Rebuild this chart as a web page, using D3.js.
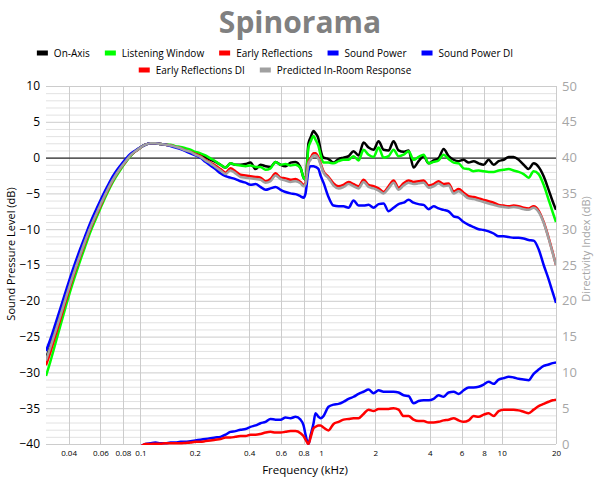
<!DOCTYPE html>
<html>
<head>
<meta charset="utf-8">
<script src="https://cdn.jsdelivr.net/npm/d3@7"></script>
<style>
  body { margin: 0; background: #fff; }
  svg { font-family: 'Open Sans', sans-serif; }
</style>
</head>
<body>
<div id="chart"></div>
<script>
// frequencies in kHz
var freq = [
  0.030, 0.0317, 0.0338, 0.036, 0.0384, 0.0409, 0.0436, 0.0465, 0.0496, 0.0528,
  0.0563, 0.060, 0.064, 0.0682, 0.0727, 0.0775, 0.0826, 0.088, 0.0938, 0.100,
  0.1066, 0.1136, 0.1211, 0.1291, 0.1376, 0.1466, 0.1563, 0.1666, 0.1776, 0.1892,
  0.2017, 0.215, 0.229, 0.244, 0.260, 0.2775, 0.296, 0.315, 0.336, 0.358,
  0.382, 0.407, 0.434, 0.462, 0.493, 0.525, 0.560, 0.597, 0.636, 0.678,
  0.722, 0.770, 0.800, 0.821, 0.852, 0.875, 0.909, 0.932, 0.968, 0.994,
  1.032, 1.100, 1.173, 1.250, 1.332, 1.420, 1.514, 1.614, 1.720, 1.833,
  1.954, 2.083, 2.220, 2.366, 2.522, 2.688, 2.865, 3.054, 3.255, 3.470,
  3.698, 3.942, 4.202, 4.477, 4.773, 5.087, 5.422, 5.780, 6.160, 6.566,
  6.998, 7.459, 7.951, 8.472, 9.031, 9.625, 10.26, 10.94, 11.65, 12.42,
  13.24, 14.11, 15.04, 16.03, 17.09, 18.21, 19.16, 20.0
];

var onAxis = [
  -28.0, -26.3, -24.1, -21.9, -19.6, -17.4, -15.3, -13.3, -11.4, -9.6,
  -8.0, -6.5, -5.0, -3.6, -2.4, -1.4, -0.5, 0.3, 0.9, 1.4,
  1.8, 2.0, 2.0, 1.9, 1.8, 1.7, 1.5, 1.3, 1.1, 0.9,
  0.6, 0.4, 0.1, -0.3, -0.6, -1.0, -1.4, -0.8, -1.0, -1.0,
  -0.9, -0.7, -1.6, -1.0, -1.2, -1.3, -0.6, -1.0, -1.2, -0.7,
  -0.6, -1.4, -2.8, -3.1, 2.0, 2.8, 3.7, 3.4, 2.6, 1.1,
  0.0, -0.2, -0.7, -0.2, 0.0, 0.2, 0.9, 0.3, 2.1, 1.4,
  1.1, 2.3, 1.1, 1.0, 2.3, 1.0, 0.8, 1.0, -1.4, -0.5,
  0.2, -0.8, -0.4, -0.1, 1.2, 0.2, -0.3, -0.5, -0.3, -0.7,
  -0.5, -0.8, -1.0, -0.3, -1.0, -0.5, -0.3, 0.1, 0.1, -0.3,
  -1.0, -1.6, -0.8, -1.3, -2.6, -4.5, -6.1, -7.3
];

var listeningWindow = [
  -30.5, -28.5, -26.0, -23.5, -21.0, -18.6, -16.4, -14.3, -12.3, -10.4,
  -8.7, -7.1, -5.5, -4.05, -2.8, -1.7, -0.7, 0.2, 0.9, 1.4,
  1.8, 2.0, 2.0, 1.9, 1.8, 1.8, 1.6, 1.5, 1.3, 1.1,
  0.8, 0.6, 0.3, -0.1, -0.5, -1.0, -1.4, -0.8, -1.0, -1.1,
  -1.2, -1.1, -1.3, -1.3, -1.7, -1.5, -0.6, -1.0, -0.9, -1.1,
  -1.0, -1.5, -2.8, -3.1, 1.4, 2.2, 3.0, 2.5, 1.6, 0.4,
  -0.7, -0.7, -0.8, -0.5, -0.3, -0.3, 0.2, -0.4, 1.1, 0.4,
  0.1, 1.4, 0.0, 0.2, 1.1, 0.2, 0.4, 0.9, -0.3, 0.1,
  0.4, -0.8, -0.6, -0.4, 0.4, -0.2, -0.7, -0.8, -1.5, -1.6,
  -1.9, -1.8, -1.9, -2.0, -2.0, -1.8, -1.7, -1.6, -1.8, -2.0,
  -2.3, -2.8, -1.9, -2.3, -3.8, -5.9, -7.6, -9.0
];

var earlyReflections = [
  -29.0, -27.2, -24.9, -22.6, -20.2, -17.9, -15.75, -13.7, -11.75, -9.9,
  -8.3, -6.75, -5.2, -3.8, -2.55, -1.5, -0.6, 0.3, 0.9, 1.4,
  1.8, 2.0, 2.0, 1.9, 1.8, 1.7, 1.5, 1.3, 1.0, 0.8,
  0.5, 0.2, -0.3, -0.7, -1.1, -1.6, -2.1, -1.5, -1.9, -2.4,
  -2.5, -2.6, -2.7, -2.8, -3.3, -3.0, -2.2, -2.8, -2.9, -3.1,
  -3.0, -3.4, -3.8, -3.5, -0.6, -0.1, 0.6, 0.6, 0.0, -0.8,
  -1.9, -2.7, -3.6, -4.0, -3.8, -3.4, -3.7, -4.0, -3.1, -3.8,
  -4.0, -4.3, -4.8, -4.0, -3.2, -4.2, -3.6, -3.2, -3.4, -3.3,
  -3.2, -3.9, -3.7, -3.3, -3.7, -3.6, -4.7, -4.4, -4.9, -5.4,
  -5.5, -5.7, -5.9, -6.1, -6.3, -6.6, -6.7, -6.8, -6.7, -6.8,
  -7.0, -7.1, -6.8, -7.4, -9.0, -11.2, -13.2, -15.0
];

var soundPower = [
  -27.0, -25.4, -23.25, -21.1, -18.85, -16.7, -14.65, -12.7, -10.85, -9.1,
  -7.5, -6.0, -4.55, -3.2, -2.05, -1.1, -0.25, 0.5, 1.0, 1.45,
  1.8, 2.0, 2.0, 1.9, 1.8, 1.6, 1.4, 1.2, 0.9, 0.6,
  0.3, 0.0, -0.6, -1.1, -1.6, -2.2, -2.6, -2.8, -3.0, -3.3,
  -3.5, -3.8, -3.7, -4.1, -4.5, -4.3, -4.1, -4.5, -4.8, -5.0,
  -5.1, -5.4, -5.6, -5.0, -1.8, -1.2, -1.2, -1.3, -1.6, -2.5,
  -3.5, -5.5, -6.7, -6.8, -6.8, -7.0, -6.0, -6.7, -6.7, -6.6,
  -7.0, -6.5, -6.4, -7.5, -7.0, -6.5, -6.3, -5.9, -6.3, -6.5,
  -6.6, -7.2, -6.8, -7.1, -7.3, -7.5, -8.2, -8.4, -9.0, -9.4,
  -9.7, -10.0, -10.1, -10.3, -10.6, -11.0, -11.0, -11.1, -11.2, -11.2,
  -11.3, -11.5, -11.6, -12.8, -15.0, -17.0, -18.8, -20.3
];

var predictedInRoom = [
  -28.3, -26.5, -24.3, -22.1, -19.8, -17.6, -15.5, -13.5, -11.55, -9.75,
  -8.15, -6.6, -5.1, -3.7, -2.5, -1.45, -0.55, 0.3, 0.9, 1.4,
  1.8, 2.0, 2.0, 1.9, 1.8, 1.7, 1.5, 1.3, 1.0, 0.8,
  0.4, 0.1, -0.4, -0.8, -1.3, -1.8, -2.3, -1.8, -2.2, -2.7,
  -2.8, -2.9, -3.0, -3.1, -3.5, -3.3, -2.5, -3.0, -3.2, -3.4,
  -3.3, -3.6, -4.0, -3.7, -0.8, -0.3, 0.3, 0.3, -0.2, -1.0,
  -2.1, -2.9, -3.9, -4.3, -4.1, -3.7, -4.0, -4.3, -3.4, -4.1,
  -4.3, -4.6, -5.0, -4.3, -3.5, -4.5, -3.9, -3.5, -3.7, -3.6,
  -3.5, -4.2, -4.0, -3.6, -4.0, -3.9, -5.0, -4.7, -5.2, -5.7,
  -5.8, -6.0, -6.2, -6.4, -6.6, -6.8, -6.9, -7.0, -6.9, -7.0,
  -7.2, -7.3, -7.0, -7.6, -9.1, -11.3, -13.3, -15.0
];

var soundPowerDI = [
  -3.5, -3.3, -3.1, -3.0, -2.9, -2.8, -2.6, -2.4, -2.2, -2.0,
  -1.8, -1.6, -1.4, -1.2, -1.0, -0.8, -0.6, -0.5, -0.4, -0.3,
  0.0, 0.1, 0.2, 0.1, 0.1, 0.2, 0.2, 0.3, 0.3, 0.4,
  0.5, 0.6, 0.7, 0.8, 0.9, 1.0, 1.3, 1.7, 1.8, 2.0,
  2.1, 2.4, 2.6, 2.9, 3.1, 3.5, 3.4, 3.4, 3.7, 3.6,
  3.8, 3.4, 2.6, 1.3, 0.0, 1.2, 2.9, 4.3, 3.8, 3.6,
  3.9, 5.2, 5.5, 5.6, 5.9, 6.3, 6.6, 7.0, 7.3, 7.6,
  7.1, 7.5, 7.3, 7.3, 7.3, 7.2, 6.8, 6.7, 5.7, 6.0,
  6.1, 6.1, 6.3, 6.8, 6.6, 7.2, 7.3, 7.0, 7.5, 7.9,
  7.9, 8.0, 8.3, 8.7, 8.4, 9.0, 9.2, 9.4, 9.3, 9.1,
  9.0, 8.9, 9.8, 10.4, 10.9, 11.1, 11.3, 11.4
];

var earlyReflectionsDI = [
  -3.5, -3.4, -3.2, -3.0, -2.8, -2.6, -2.4, -2.2, -2.0, -1.8,
  -1.6, -1.4, -1.2, -1.0, -0.8, -0.6, -0.5, -0.4, -0.3, -0.3,
  0.0, 0.0, 0.05, 0.05, 0.1, 0.1, 0.1, 0.1, 0.15, 0.2,
  0.3, 0.3, 0.4, 0.5, 0.6, 0.7, 0.9, 0.9, 1.0, 1.1,
  1.1, 1.3, 1.3, 1.4, 1.6, 1.7, 1.6, 1.6, 1.7, 1.8,
  1.8, 1.5, 1.1, 0.6, 0.0, 0.9, 2.2, 2.4, 2.6, 2.6,
  2.3, 1.9, 2.8, 3.1, 3.4, 3.5, 3.6, 3.6, 4.2, 4.8,
  4.6, 4.9, 4.9, 4.9, 5.0, 4.8, 3.9, 3.9, 3.4, 3.2,
  3.2, 3.0, 3.0, 3.1, 3.3, 3.4, 3.6, 3.3, 3.1, 3.3,
  3.9, 3.8, 4.1, 4.3, 3.9, 4.6, 4.8, 4.8, 4.8, 4.7,
  4.5, 4.3, 4.8, 5.3, 5.6, 5.9, 6.1, 6.2
];

var xTicks = [0.04, 0.06, 0.08, 0.1, 0.2, 0.4, 0.6, 0.8, 1, 2, 4, 6, 8, 10, 20];
var yTicks = [-40, -35, -30, -25, -20, -15, -10, -5, 0, 5, 10];
var diTicks = [0, 5, 10, 15, 20, 25, 30, 35, 40, 45, 50];

var width = 600, height = 480;
var margin = { top: 86, right: 44, bottom: 36, left: 46 };
var plotW = width - margin.left - margin.right;
var plotH = height - margin.top - margin.bottom;

var svg = d3.select('#chart').append('svg')
  .attr('width', width)
  .attr('height', height);

svg.append('text')
  .attr('x', 300).attr('y', 33)
  .attr('text-anchor', 'middle')
  .attr('font-size', '30px')
  .attr('font-weight', 'bold')
  .attr('fill', '#808080')
  .text('Spinorama');

var x = d3.scaleLog().domain([0.03, 20]).range([0, plotW]);
var y = d3.scaleLinear().domain([-40, 10]).range([plotH, 0]);
var yDI = d3.scaleLinear().domain([0, 50]).range([plotH, 0]);

var chart = svg.append('g')
  .attr('transform', 'translate(' + margin.left + ',' + margin.top + ')');

// grid
chart.append('g').selectAll('line')
  .data(d3.range(-40, 11, 1))
  .enter().append('line')
  .attr('x1', 0).attr('x2', plotW)
  .attr('y1', function(d) { return y(d) + 0.5; })
  .attr('y2', function(d) { return y(d) + 0.5; })
  .attr('stroke', function(d) { return d % 5 === 0 ? '#cccccc' : '#e2e2e2'; })
  .attr('stroke-width', 1);

chart.append('g').selectAll('line')
  .data(xTicks)
  .enter().append('line')
  .attr('x1', function(d) { return Math.round(x(d)) + 0.5; })
  .attr('x2', function(d) { return Math.round(x(d)) + 0.5; })
  .attr('y1', 0).attr('y2', plotH)
  .attr('stroke', '#cccccc');

chart.append('line')
  .attr('x1', 0).attr('x2', plotW)
  .attr('y1', y(0) + 0.5).attr('y2', y(0) + 0.5)
  .attr('stroke', '#000');

// axes
var leftAxis = chart.append('g')
  .call(d3.axisLeft(y).tickValues(yTicks).tickSize(0).tickPadding(6));
leftAxis.select('.domain').remove();
leftAxis.selectAll('text').attr('font-size', '12px').attr('fill', '#000')
  .attr('font-family', "'Open Sans', sans-serif");

var rightAxis = chart.append('g')
  .attr('transform', 'translate(' + plotW + ',0)')
  .call(d3.axisRight(yDI).tickValues(diTicks).tickSize(0).tickPadding(6));
rightAxis.select('.domain').remove();
rightAxis.selectAll('text').attr('font-size', '13px').attr('fill', '#a6a6a6')
  .attr('font-family', "'Open Sans', sans-serif");

var bottomAxis = chart.append('g')
  .attr('transform', 'translate(0,' + plotH + ')')
  .call(d3.axisBottom(x).tickValues(xTicks).tickSize(0).tickPadding(6)
    .tickFormat(function(d) { return String(d); }));
bottomAxis.select('.domain').remove();
bottomAxis.selectAll('text').attr('font-size', '8px').attr('fill', '#000')
  .attr('font-family', "'Open Sans', sans-serif");

svg.append('text')
  .attr('transform', 'translate(15,254) rotate(-90)')
  .attr('text-anchor', 'middle')
  .attr('font-size', '11px')
  .text('Sound Pressure Level (dB)');

svg.append('text')
  .attr('transform', 'translate(590,249) rotate(-90)')
  .attr('text-anchor', 'middle')
  .attr('font-size', '11px')
  .attr('fill', '#a6a6a6')
  .text('Directivity Index (dB)');

svg.append('text')
  .attr('x', 305).attr('y', 474)
  .attr('text-anchor', 'middle')
  .attr('font-size', '11.5px')
  .text('Frequency (kHz)');

// curves
chart.append('clipPath').attr('id', 'plot-clip')
  .append('rect').attr('width', plotW).attr('height', plotH + 1);

var series = [
  { name: 'On-Axis', values: onAxis, color: '#000000', di: false },
  { name: 'Listening Window', values: listeningWindow, color: '#00ff00', di: false },
  { name: 'Early Reflections', values: earlyReflections, color: '#ff0000', di: false },
  { name: 'Sound Power', values: soundPower, color: '#0000ff', di: false },
  { name: 'Sound Power DI', values: soundPowerDI, color: '#0000ff', di: true },
  { name: 'Early Reflections DI', values: earlyReflectionsDI, color: '#ff0000', di: true },
  { name: 'Predicted In-Room Response', values: predictedInRoom, color: '#a0a0a0', di: false }
];

var lines = chart.append('g').attr('clip-path', 'url(#plot-clip)');
series.forEach(function(s) {
  var scale = s.di ? yDI : y;
  var line = d3.line()
    .x(function(d, i) { return x(freq[i]); })
    .y(function(d) { return scale(d); })
    .curve(d3.curveMonotoneX);
  lines.append('path')
    .datum(s.values)
    .attr('fill', 'none')
    .attr('stroke', s.color)
    .attr('stroke-width', 2.5)
    .attr('stroke-linejoin', 'round')
    .attr('d', line);
});

// legend, two centered rows
var legendRows = [series.slice(0, 5), series.slice(5)];
var rowY = [53, 70];
legendRows.forEach(function(row, r) {
  var g = svg.append('g');
  var pos = 0;
  row.forEach(function(s) {
    var item = g.append('g').attr('transform', 'translate(' + pos + ',0)');
    item.append('rect')
      .attr('x', 0).attr('y', -2.5)
      .attr('width', 11).attr('height', 5)
      .attr('fill', s.color);
    var t = item.append('text')
      .attr('x', 17).attr('y', 3.5)
      .attr('font-size', '10px')
      .text(s.name);
    pos += 17 + t.node().getComputedTextLength() + 15;
  });
  var total = pos - 15;
  g.attr('transform', 'translate(' + (275 - total / 2) + ',' + rowY[r] + ')');
});
</script>
</body>
</html>
